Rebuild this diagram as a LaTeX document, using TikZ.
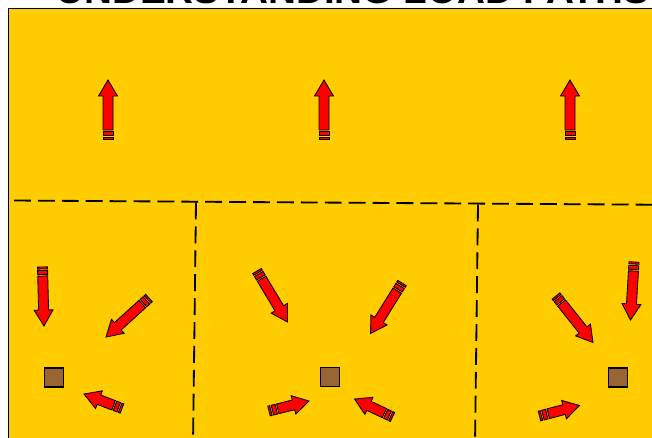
\documentclass[tikz,border=0pt]{standalone}
\usepackage{fontspec}
\setmainfont{Liberation Sans}
\usepackage{tikz}

\definecolor{slide}{HTML}{FFCC00}
\definecolor{brick}{HTML}{996633}

\begin{document}
\begin{tikzpicture}[x=0.025cm,y=-0.025cm,
  arr/.style={draw=black,fill=red,line width=0.6pt,line join=miter},
  sep/.style={line width=1.3pt,dash pattern=on 12pt off 5pt},
  post/.style={draw=black,fill=brick,line width=1.4pt}]
  \useasboundingbox (0,0) rectangle (652,437);
  % slide background, title cut at the top
  \draw[fill=slide,line width=1.4pt] (8.5,8.5) rectangle (670,450);
  \node[anchor=base west,inner sep=0pt,font=\bfseries\fontsize{27.5}{27.5}\selectfont] (title) at (56,3.2) {UNDERSTANDING LOAD PATHS};
  % floor line and walls
  \draw[sep] (14,200.5) -- (665,204.8);
  \draw[sep] (196,202.5) -- (193,445);
  \draw[sep] (478,204.5) -- (475,445);
  % posts
  \foreach \px/\py in {54/377.5, 330/377, 618/377.7}{
     \draw[post] (\px-9.5,\py-9.5) rectangle (\px+9.5,\py+9.5);
  }
  % striped arrows: tail x/y / tip x/y (pixels)
  \foreach \tx/\ty/\hx/\hy in {108/139/108/80, 324/139/324/80, 570/139/570/80,
      42.5/267/44/326, 149/298/106/337, 122/408.5/84/394,
      257/271/287.5/322, 402/283/370.5/333.5, 269/411/309/401, 392.5/417/354.5/399,
      634/262/630.5/320, 556/296/593/342.5, 539.5/416/579.5/405.5}{
     \pgfmathsetmacro{\len}{veclen(\hx-\tx,\hy-\ty)}
     \pgfmathsetmacro{\ang}{atan2(\ty-\hy,\hx-\tx)}
     \begin{scope}[shift={(\tx,\ty)},rotate=\ang]
       \draw[arr] (0,-5) rectangle (2,5);
       \draw[arr] (3.5,-5) rectangle (7.5,5);
       \draw[arr] (9,-5) -- (\len-16,-5) -- (\len-16,-9.5) -- (\len,0)
          -- (\len-16,9.5) -- (\len-16,5) -- (9,5) -- cycle;
     \end{scope}
  }
\end{tikzpicture}
\end{document}
